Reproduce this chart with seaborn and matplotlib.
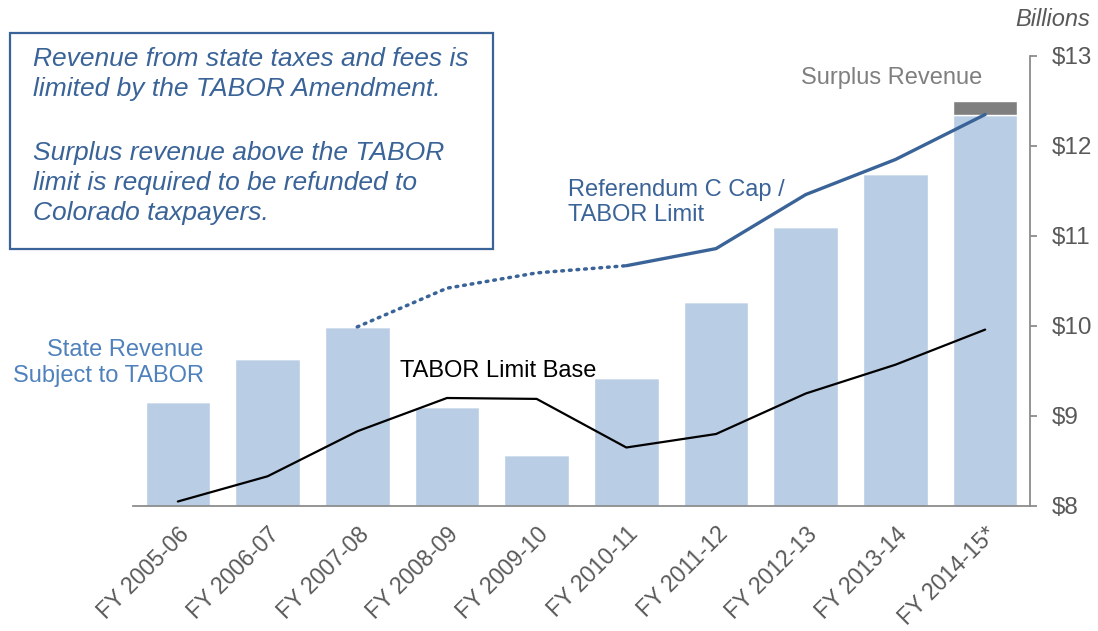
import numpy as np
import pandas as pd
import seaborn as sns
import matplotlib.pyplot as plt
from matplotlib.patches import Rectangle

# Data (billions of dollars)
years = ["FY 2005-06", "FY 2006-07", "FY 2007-08", "FY 2008-09", "FY 2009-10",
         "FY 2010-11", "FY 2011-12", "FY 2012-13", "FY 2013-14", "FY 2014-15*"]
revenue = [9.16, 9.63, 9.99, 9.10, 8.57, 9.42, 10.27, 11.10, 11.69, 12.34]
surplus = [0, 0, 0, 0, 0, 0, 0, 0, 0, 0.16]
limit_base = [8.05, 8.33, 8.83, 9.20, 9.19, 8.65, 8.80, 9.25, 9.57, 9.96]
# Referendum C cap: dotted during the timeout years, solid afterwards
cap_timeout = [None, None, 9.99, 10.42, 10.59, 10.67, None, None, None, None]
cap_limit = [None, None, None, None, None, 10.67, 10.86, 11.46, 11.85, 12.35]

df = pd.DataFrame({"year": years, "revenue": revenue})

sns.set_style("white")
plt.rcParams["font.family"] = ["Liberation Sans", "DejaVu Sans"]

bar_color = "#b9cde5"
dark_blue = "#3a6398"
text_gray = "#595959"

fig = plt.figure(figsize=(10.98, 6.31), dpi=100)
ax = fig.add_axes([133 / 1098, 1 - 506 / 631, 897 / 1098, 450 / 631])

sns.barplot(data=df, x="year", y="revenue", color=bar_color, width=0.72,
            saturation=1, ax=ax)
x = np.arange(len(years))
ax.bar(x, surplus, bottom=revenue, width=0.72, color="#7f7f7f")

ax.plot(x, limit_base, color="black", lw=1.6)
ct = np.array([np.nan if v is None else v for v in cap_timeout], dtype=float)
cl = np.array([np.nan if v is None else v for v in cap_limit], dtype=float)
ax.plot(x, ct, color=dark_blue, lw=2.5, linestyle=(0, (0.5, 1.7)),
        dash_capstyle="round")
ax.plot(x, cl, color=dark_blue, lw=2.4)

ax.set_ylim(8, 13)
ax.set_xlim(-0.5, len(years) - 0.5)
ax.set_xlabel("")
ax.set_ylabel("")

# axis styling
for s in ["top", "left"]:
    ax.spines[s].set_visible(False)
for s in ["right", "bottom"]:
    ax.spines[s].set_color("#8c8c8c")
    ax.spines[s].set_linewidth(1.3)
ax.yaxis.tick_right()
ax.set_yticks([8, 9, 10, 11, 12, 13])
ax.set_yticklabels(["$8", "$9", "$10", "$11", "$12", "$13"])
ax.tick_params(axis="y", which="major", direction="out", length=5, width=1.3,
               color="#8c8c8c", labelsize=17.5, labelcolor=text_gray, pad=11)
ax.set_xticks(x)
ax.set_xticks(np.arange(-0.5, len(years)), minor=True)
ax.set_xticklabels(years, rotation=45, ha="right", rotation_mode="anchor")
ax.tick_params(axis="x", which="major", length=0, labelsize=16.5,
               labelcolor=text_gray, pad=12)
ax.tick_params(axis="x", which="minor", direction="out", length=7, width=1.3,
               color="#8c8c8c")

# annotations
ax.text(0.29, 9.59, "State Revenue\nSubject to TABOR", ha="right", va="center",
        color="#4f81bd", fontsize=17, linespacing=1.2)
ax.text(2.48, 9.5, "TABOR Limit Base", ha="left", va="center",
        color="black", fontsize=17)
ax.text(4.35, 11.37, "Referendum C Cap /\nTABOR Limit", ha="left", va="center",
        color=dark_blue, fontsize=17, linespacing=1.2)
ax.text(7.96, 12.76, "Surplus Revenue", ha="center", va="center",
        color="#7f7f7f", fontsize=17)
fig.text(1090 / 1098, 1 - 19 / 631, "Billions", ha="right", va="center",
         color=text_gray, fontsize=17, style="italic")

# explanatory box
fig.patches.append(Rectangle((10 / 1098, 1 - 249 / 631), 483 / 1098, 216 / 631,
                             transform=fig.transFigure, fill=False,
                             edgecolor=dark_blue, lw=1.6))
para1 = ("Revenue from state taxes and fees is\n"
         "limited by the TABOR Amendment.")
para2 = ("Surplus revenue above the TABOR\n"
         "limit is required to be refunded to\n"
         "Colorado taxpayers.")
fig.text(33 / 1098, 1 - 47 / 631, para1, ha="left", va="top", color=dark_blue,
         fontsize=19, style="italic", linespacing=1.3)
fig.text(33 / 1098, 1 - 141 / 631, para2, ha="left", va="top", color=dark_blue,
         fontsize=19, style="italic", linespacing=1.32)

fig.savefig("out.png", dpi=100)
